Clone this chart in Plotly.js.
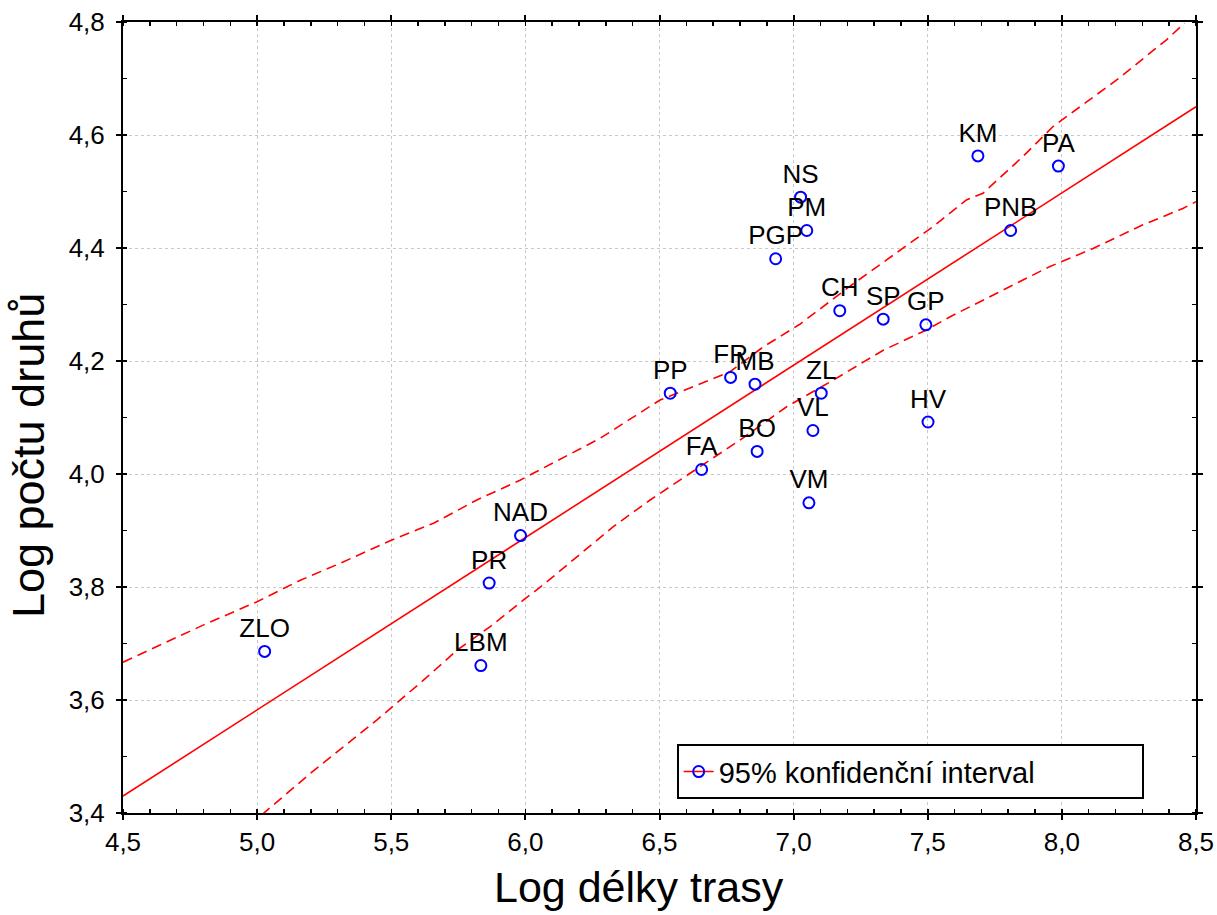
<!DOCTYPE html>
<html>
<head>
<meta charset="utf-8">
<script src="https://cdn.plot.ly/plotly-3.0.1.min.js"></script>
<style>html,body{margin:0;padding:0;background:#fff;}#chart{width:1217px;height:915px;}</style>
</head>
<body>
<div id="chart"></div>
<script>
// Sites (labels) and their values
const siteNames = ["ZLO","LBM","PR","NAD","PP","FA","FR","MB","BO","PGP","NS","PM","VM","VL","ZL","CH","SP","GP","HV","KM","PNB","PA"];
const logLength = [5.028,5.834,5.865,5.982,6.540,6.657,6.765,6.856,6.864,6.933,7.026,7.049,7.057,7.072,7.103,7.172,7.334,7.493,7.501,7.687,7.809,7.987];
const logSpecies = [3.686,3.661,3.807,3.891,4.143,4.008,4.171,4.159,4.040,4.381,4.490,4.431,3.949,4.077,4.143,4.289,4.274,4.264,4.092,4.563,4.431,4.545];

// Regression line
const fitX = [4.5, 8.5];
const fitY = [3.430, 4.650];

// Upper 95% confidence band
const upperX = [4.5, 4.801, 5.0, 5.161, 5.310, 5.496, 5.658, 5.819, 5.980, 6.278, 6.502, 6.763, 6.887, 7.023, 7.209, 7.383, 7.520, 7.644, 7.706, 7.855, 7.967, 8.203, 8.389, 8.457];
const upperY = [3.667, 3.733, 3.774, 3.812, 3.842, 3.882, 3.913, 3.954, 3.989, 4.063, 4.131, 4.181, 4.225, 4.265, 4.332, 4.391, 4.438, 4.485, 4.497, 4.562, 4.615, 4.697, 4.768, 4.798];

// Lower 95% confidence band
const lowerX = [5.018, 5.198, 5.447, 5.620, 5.745, 5.869, 5.993, 6.067, 6.328, 6.465, 6.651, 6.800, 6.974, 7.147, 7.334, 7.495, 7.582, 7.743, 7.954, 8.116, 8.302, 8.451, 8.5];
const lowerY = [3.397, 3.470, 3.565, 3.635, 3.688, 3.730, 3.777, 3.804, 3.907, 3.954, 4.013, 4.060, 4.119, 4.166, 4.219, 4.255, 4.278, 4.317, 4.367, 4.399, 4.441, 4.470, 4.482];

// Ticks
const xTickVals = [4.5,5.0,5.5,6.0,6.5,7.0,7.5,8.0,8.5];
const xTickText = ["4,5","5,0","5,5","6,0","6,5","7,0","7,5","8,0","8,5"];
const yTickVals = [3.4,3.6,3.8,4.0,4.2,4.4,4.6,4.8];
const yTickText = ["3,4","3,6","3,8","4,0","4,2","4,4","4,6","4,8"];

const legendLabel = "95% konfidenční interval";
const xTitle = "Log délky trasy";
const yTitle = "Log počtu druhů";

const FONT = "Liberation Sans, Arial, Helvetica, sans-serif";
const RED = "#ff0000";
const BLUE = "#0000ff";

const traces = [
  {x: upperX, y: upperY, mode: "lines", line: {color: RED, width: 1.6, dash: "10px,6px"}, showlegend: false, hoverinfo: "skip"},
  {x: lowerX, y: lowerY, mode: "lines", line: {color: RED, width: 1.6, dash: "10px,6px"}, showlegend: false, hoverinfo: "skip"},
  {x: fitX, y: fitY, mode: "lines", line: {color: RED, width: 1.6}, showlegend: false, hoverinfo: "skip"},
  {x: logLength, y: logSpecies, text: siteNames, mode: "markers+text", textposition: "top center",
   textfont: {family: FONT, size: 26, color: "#000"},
   marker: {symbol: "circle-open", size: 11, color: BLUE, line: {width: 2, color: BLUE}},
   cliponaxis: false, showlegend: false},
  {x: [null], y: [null], mode: "lines+markers", name: legendLabel,
   line: {color: RED, width: 1.6},
   marker: {symbol: "circle-open", size: 11, color: BLUE, line: {width: 2, color: BLUE}}}
];

const axisCommon = {
  showline: true, linecolor: "#000", linewidth: 2, mirror: "ticks",
  ticks: "outside", ticklen: 5, tickwidth: 2, tickcolor: "#000",
  showgrid: true, gridcolor: "#c8c8c8", gridwidth: 1, griddash: "dot",
  zeroline: false, tickfont: {family: FONT, size: 26, color: "#000"},
  tickmode: "array", automargin: false
};

const layout = {
  width: 1217, height: 915,
  margin: {l: 122.5, r: 20.5, t: 22, b: 102},
  paper_bgcolor: "#fff", plot_bgcolor: "#fff",
  font: {family: FONT, color: "#000"},
  separators: ", ",
  xaxis: Object.assign({}, axisCommon, {
    range: [4.5, 8.5], tickvals: xTickVals, ticktext: xTickText,
    minor: {dtick: 0.1, tick0: 4.5, ticks: "inside", ticklen: 4, tickwidth: 1.5, tickcolor: "#000", showgrid: false}
  }),
  yaxis: Object.assign({}, axisCommon, {
    range: [3.4, 4.8], tickvals: yTickVals, ticktext: yTickText,
    ticklabelstandoff: 6,
    minor: {dtick: 0.1, tick0: 3.4, ticks: "inside", ticklen: 4, tickwidth: 1.5, tickcolor: "#000", showgrid: false}
  }),
  annotations: [
    {text: xTitle, xref: "paper", yref: "paper", x: 0.481, y: -0.0936, xanchor: "center", yanchor: "middle",
     showarrow: false, font: {family: FONT, size: 43, color: "#000"}},
    {text: yTitle, xref: "paper", yref: "paper", x: -0.088, y: 0.452, xanchor: "center", yanchor: "middle",
     textangle: -90, showarrow: false, font: {family: FONT, size: 45, color: "#000"}}
  ],
  legend: {
    x: 0.516, y: 0.087, xanchor: "left", yanchor: "top",
    orientation: "h", entrywidth: 418, entrywidthmode: "pixels",
    bgcolor: "#fff", bordercolor: "#000", borderwidth: 2,
    font: {family: FONT, size: 29, color: "#000"}
  },
  showlegend: true
};

Plotly.newPlot("chart", traces, layout, {displayModeBar: false, staticPlot: true});
</script>
</body>
</html>
